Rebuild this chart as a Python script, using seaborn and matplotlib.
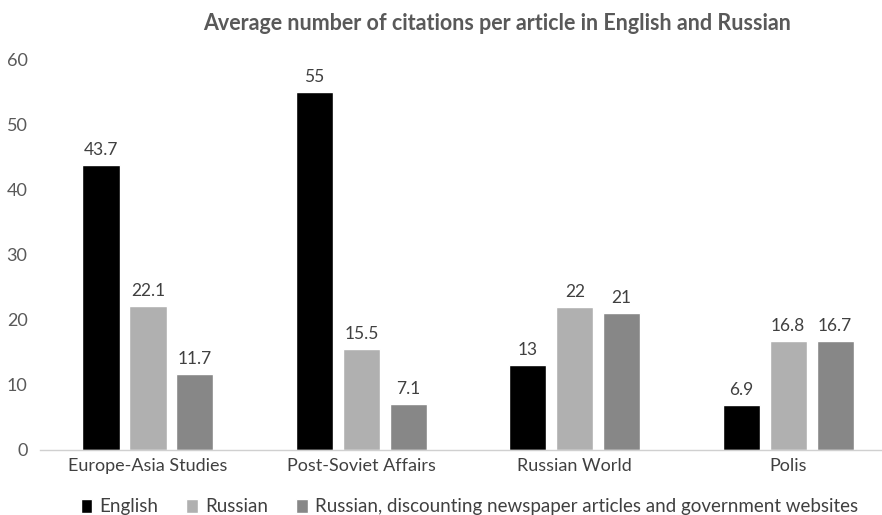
import matplotlib
matplotlib.use("Agg")
import matplotlib.pyplot as plt
import seaborn as sns
import pandas as pd

journals = ["Europe-Asia Studies", "Post-Soviet Affairs", "Russian World", "Polis"]
series = ["English", "Russian", "Russian, discounting newspaper articles and government websites"]
english = [43.7, 55, 13, 6.9]
russian = [22.1, 15.5, 22, 16.8]
russian_disc = [11.7, 7.1, 21, 16.7]
labels_english = ["43.7", "55", "13", "6.9"]
labels_russian = ["22.1", "15.5", "22", "16.8"]
labels_disc = ["11.7", "7.1", "21", "16.7"]
colors = ["#000000", "#b0b0b0", "#878787"]

rows = []
for vals, s in zip([english, russian, russian_disc], series):
    for j, v in zip(journals, vals):
        rows.append({"journal": j, "series": s, "value": v})
df = pd.DataFrame(rows)

sns.set_theme(style="white")
plt.rcParams['font.family'] = ['Lato', 'DejaVu Sans']

fig = plt.figure(figsize=(8.82, 5.15), dpi=100)
ax = fig.add_axes([40/882, 65/515, 842/882, 391/515])
sns.barplot(data=df, x="journal", y="value", hue="series", palette=colors,
            width=0.66, gap=0.21, ax=ax, legend=True, saturation=1)

for cont, labs in zip(ax.containers, [labels_english, labels_russian, labels_disc]):
    ax.bar_label(cont, labels=labs, padding=5, fontsize=12.5, color="#404040")

ax.set_ylim(0, 60)
ax.set_xlim(-0.506, 3.44)
ax.set_yticks(range(0, 61, 10))
ax.tick_params(axis='y', labelsize=13, labelcolor="#595959", length=0, pad=9)
ax.tick_params(axis='x', labelsize=13, labelcolor="#404040", length=0, pad=6)
ax.set_xlabel("")
ax.set_ylabel("")
for sp in ["top", "right", "left"]:
    ax.spines[sp].set_visible(False)
ax.spines["bottom"].set_color("#d0d0d0")
ax.spines["bottom"].set_linewidth(1)

leg = ax.legend(loc="lower center", bbox_to_anchor=(0.51, -0.21), ncol=3, frameon=False,
                fontsize=13.5, handlelength=0.6, handleheight=0.75, handletextpad=0.4,
                columnspacing=1.5, labelcolor="#404040")

fig.text(497/882, 1 - 24/515, "Average number of citations per article in English and Russian",
         ha="center", va="center", fontsize=15.5, fontweight="bold", color="#595959")

fig.savefig("out.png", dpi=100)
